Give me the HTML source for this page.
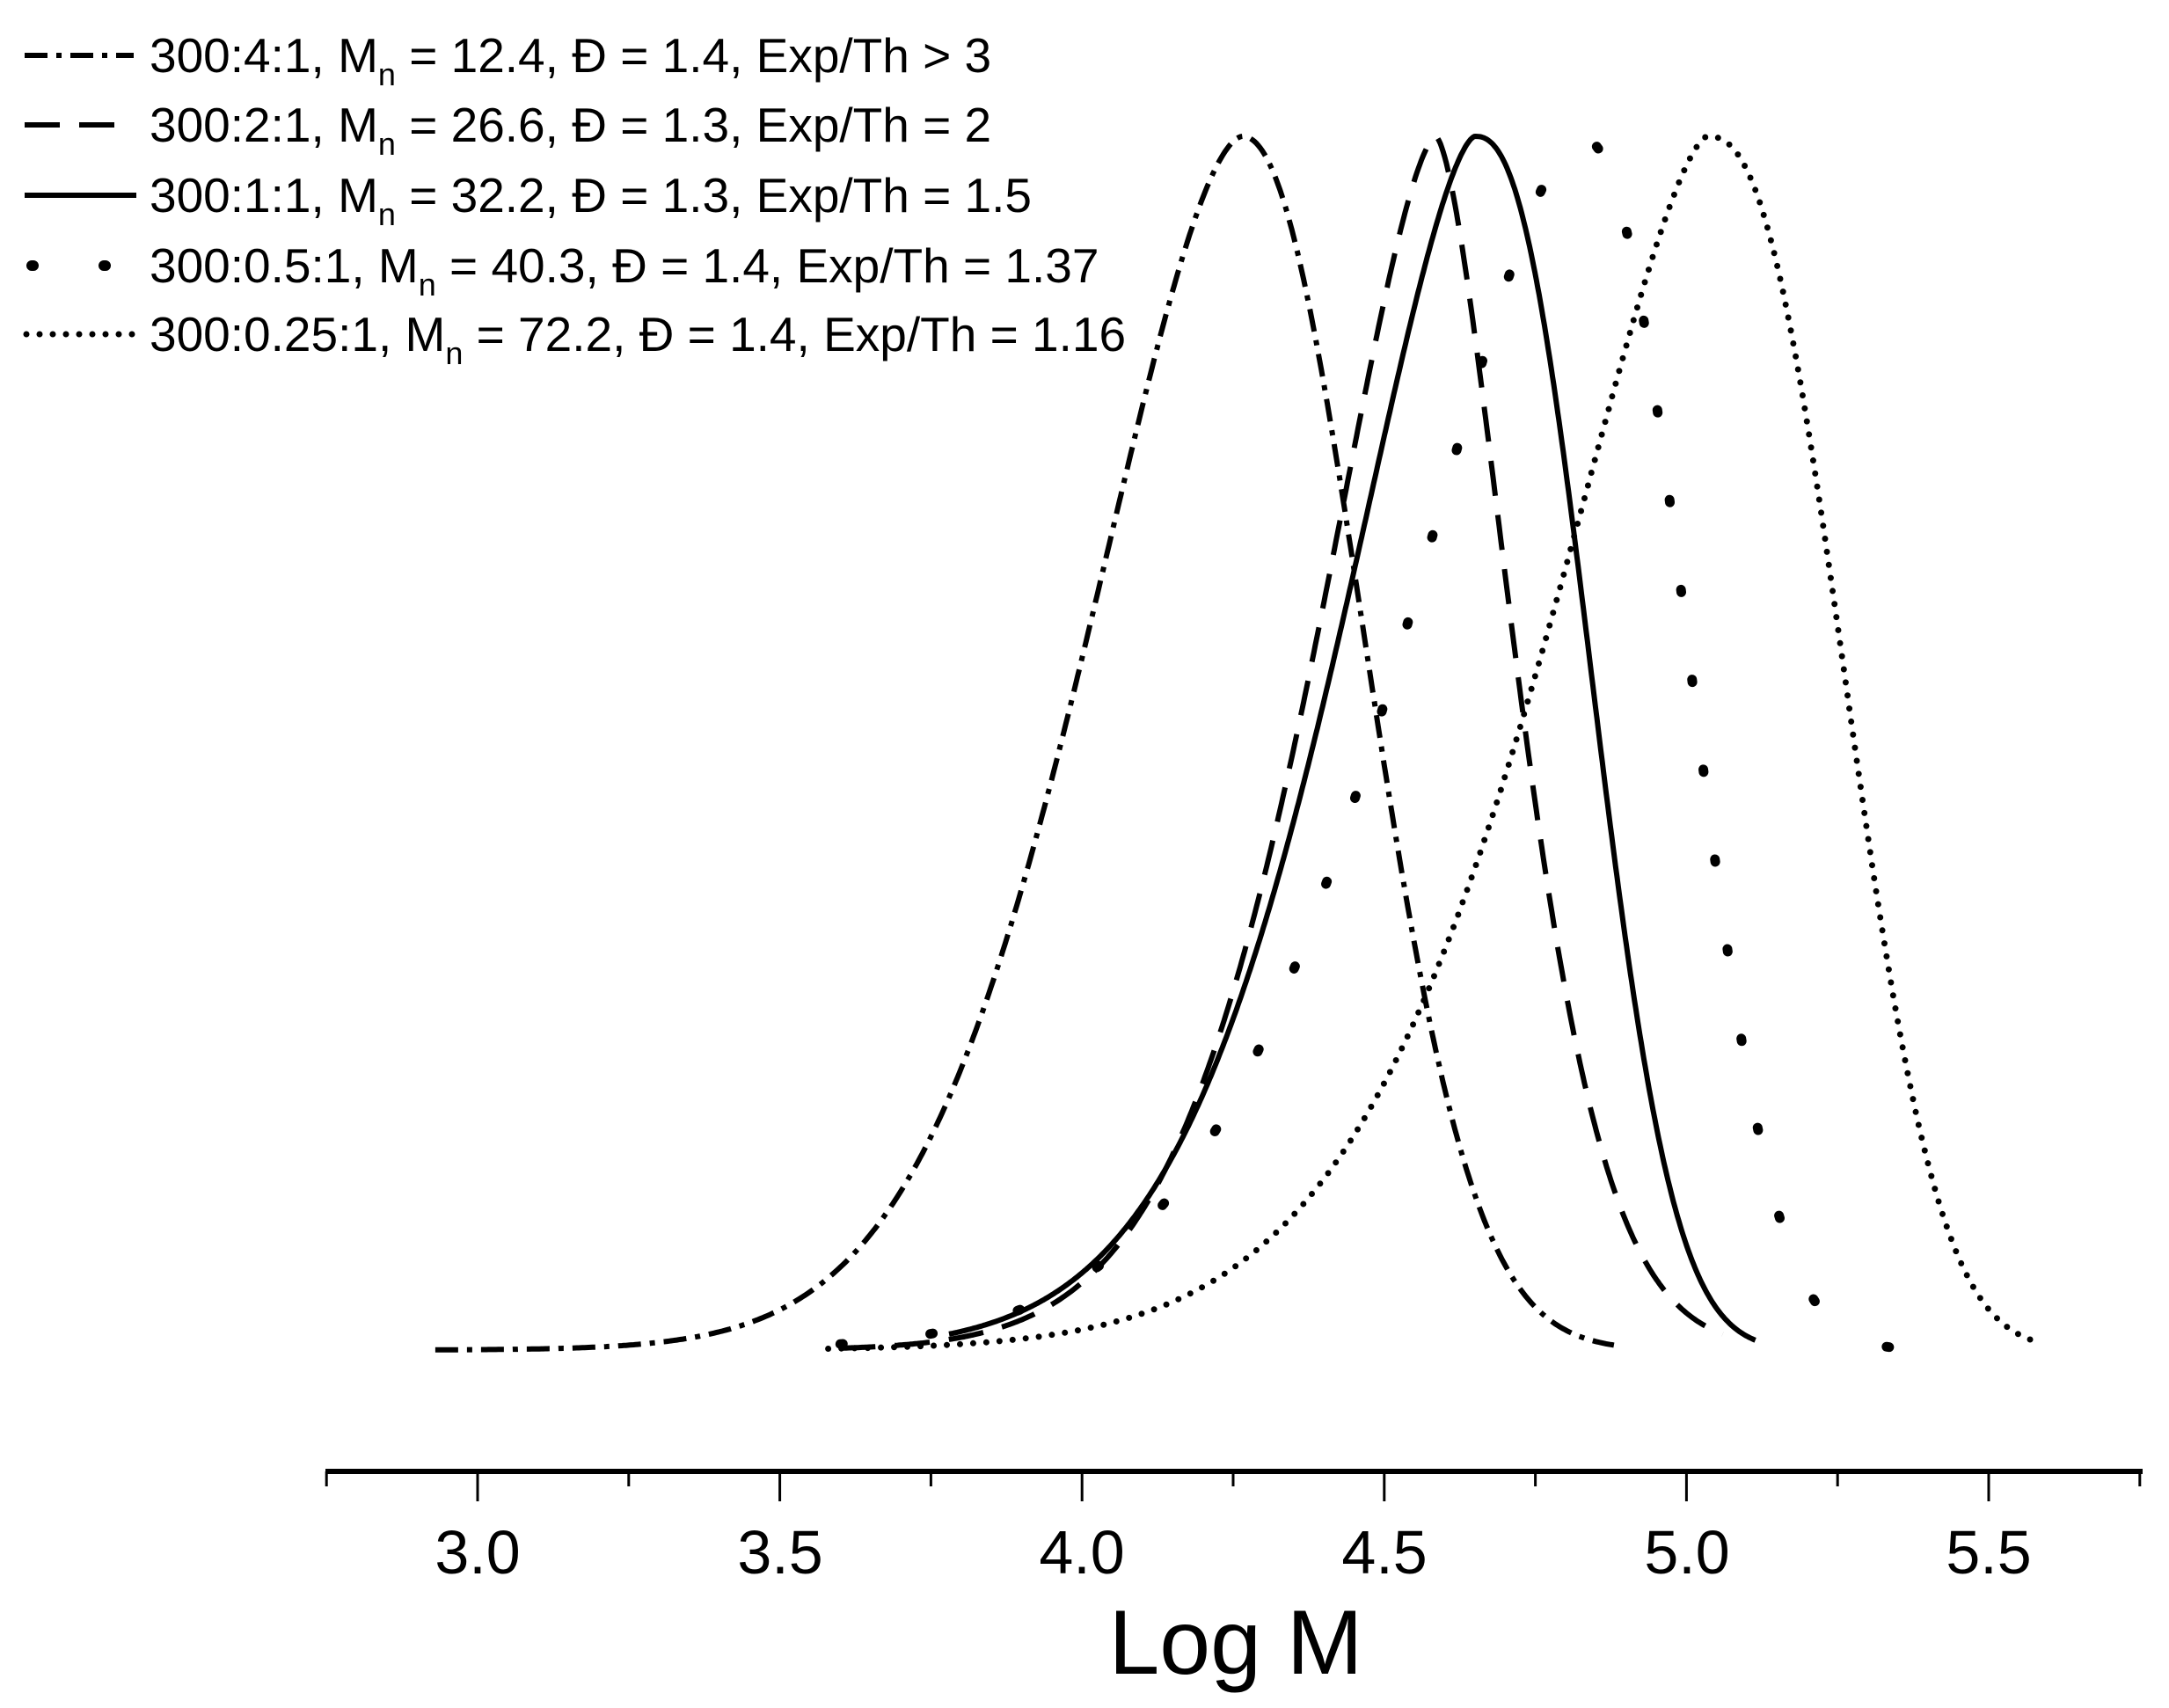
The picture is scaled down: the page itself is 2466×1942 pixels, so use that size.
<!DOCTYPE html>
<html><head><meta charset="utf-8"><style>
html,body{margin:0;padding:0;background:#fff;}
svg{display:block;font-family:"Liberation Sans",Arial,sans-serif;}
</style></head><body>
<svg id="s" width="2466" height="1942" viewBox="0 0 2466 1942" xmlns="http://www.w3.org/2000/svg">
<g id="curves" fill="none" stroke="#000" stroke-width="6"></g>
<!-- axis -->
<line x1="370" y1="1673" x2="2436" y2="1673" stroke="#000" stroke-width="6"/>
<g id="ticks" stroke="#000" stroke-width="3"></g>
<g font-size="70" text-anchor="middle" fill="#000">
<text x="543" y="1789">3.0</text>
<text x="887" y="1789">3.5</text>
<text x="1230" y="1789">4.0</text>
<text x="1574" y="1789">4.5</text>
<text x="1918" y="1789">5.0</text>
<text x="2261" y="1789">5.5</text>
</g>
<text x="1405" y="1903" font-size="104" text-anchor="middle">Log M</text>
<!-- legend -->
<g stroke="#000" stroke-width="6" fill="none">
<line x1="28" y1="63" x2="152" y2="63" stroke-dasharray="26 10 6 10"/>
<line x1="28" y1="142" x2="152" y2="142" stroke-dasharray="40 22"/>
<line x1="28" y1="222" x2="155" y2="222"/>
<line x1="36" y1="302" x2="152" y2="302" stroke-width="12" stroke-linecap="round" stroke-dasharray="2 80"/>
<line x1="30" y1="380" x2="152" y2="380" stroke-width="7" stroke-linecap="round" stroke-dasharray="0 15"/>
</g>
<g font-size="55" fill="#000">
<text x="170" y="82">300:4:1, M<tspan font-size="36" dy="15">n</tspan><tspan dy="-15"> = 12.4, Đ = 1.4, Exp/Th &gt; 3</tspan></text>
<text x="170" y="161">300:2:1, M<tspan font-size="36" dy="15">n</tspan><tspan dy="-15"> = 26.6, Đ = 1.3, Exp/Th = 2</tspan></text>
<text x="170" y="241">300:1:1, M<tspan font-size="36" dy="15">n</tspan><tspan dy="-15"> = 32.2, Đ = 1.3, Exp/Th = 1.5</tspan></text>
<text x="170" y="321">300:0.5:1, M<tspan font-size="36" dy="15">n</tspan><tspan dy="-15"> = 40.3, Đ = 1.4, Exp/Th = 1.37</tspan></text>
<text x="170" y="399">300:0.25:1, M<tspan font-size="36" dy="15">n</tspan><tspan dy="-15"> = 72.2, Đ = 1.4, Exp/Th = 1.16</tspan></text>
</g>
</svg>
<script>
(function(){
var NS="http://www.w3.org/2000/svg";
var tg=document.getElementById("ticks");
for(var i=0;i<13;i++){
  var v=2.75+i*0.25, x=543+(v-3)*687.2, major=(i%2==1);
  var l=document.createElementNS(NS,"line");
  l.setAttribute("x1",x);l.setAttribute("x2",x);
  l.setAttribute("y1",1673);l.setAttribute("y2",major?1707:1690);
  tg.appendChild(l);
}
function X(v){return 543+(v-3)*687.2;}
function Y(f){return 1535-f*1380;}
var cs=[
 {mu:4.265,sl:0.372,pl:1.7,sr:0.273,pr:2.1,a:2.93,b:4.88,dash:"26 10 6 10",w:6,cap:"butt"},
 {mu:4.585,sl:0.295,pl:1.55,sr:0.19,pr:1.6,a:3.6,b:5.06,dash:"40 22",w:6,cap:"butt"},
 {mu:4.65,sl:0.338,pl:1.55,sr:0.241,pr:2.4,a:3.78,b:5.114,dash:"",w:6,cap:"butt"},
 {mu:4.822,sl:0.43,pl:1.6,sr:0.235,pr:2.3,a:3.6,b:5.37,dash:"3 100",w:11,cap:"round"},
 {mu:5.034,sl:0.405,pl:1.5,sr:0.283,pr:2.45,a:3.58,b:5.58,dash:"0 15",w:7,cap:"round"}
];
var g=document.getElementById("curves");
cs.forEach(function(c){
  var d="";
  for(var k=0;k<=600;k++){
    var v=c.a+(c.b-c.a)*k/600, dd=v-c.mu;
    var f=dd<0?Math.exp(-Math.pow(-dd/c.sl,c.pl)):Math.exp(-Math.pow(dd/c.sr,c.pr));
    d+=(k?"L":"M")+X(v).toFixed(1)+","+Y(f).toFixed(1);
  }
  var p=document.createElementNS(NS,"path");
  p.setAttribute("d",d);
  if(c.dash)p.setAttribute("stroke-dasharray",c.dash);
  p.setAttribute("stroke-width",c.w);
  p.setAttribute("stroke-linecap",c.cap);
  g.appendChild(p);
});
})();
</script>
</body></html>
